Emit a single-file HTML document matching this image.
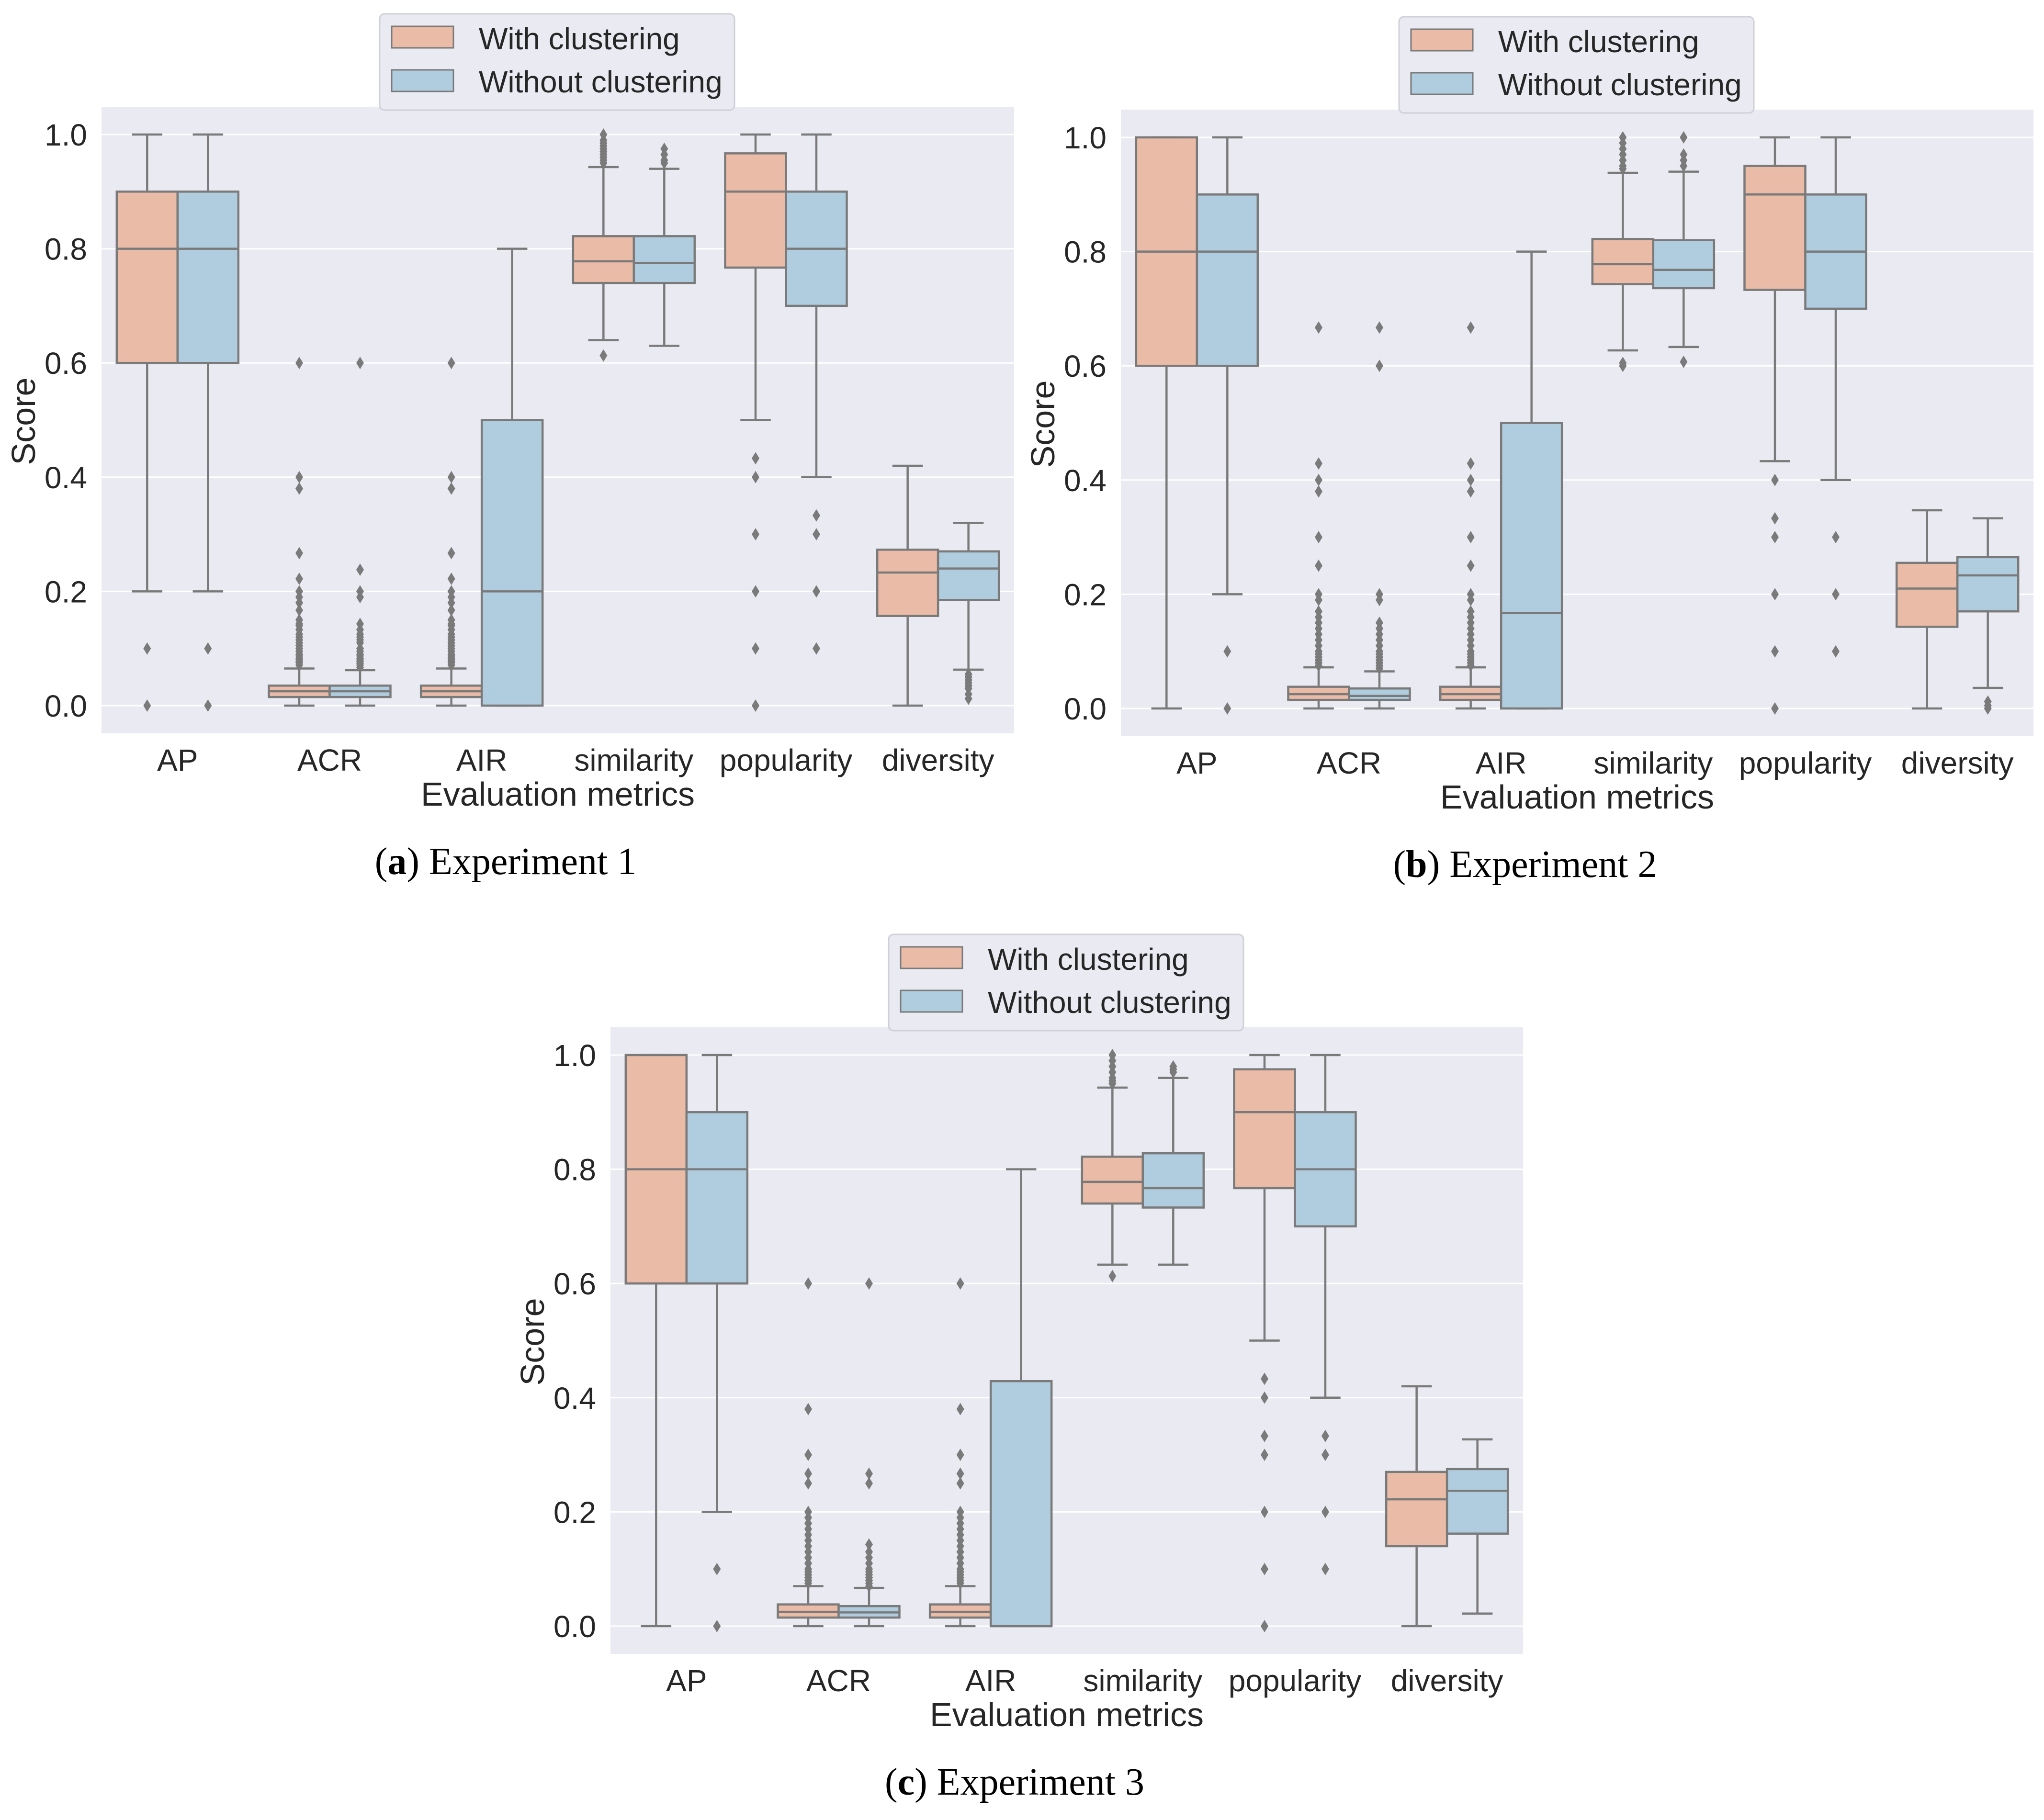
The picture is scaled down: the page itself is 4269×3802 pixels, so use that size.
<!DOCTYPE html>
<html><head><meta charset="utf-8">
<style>
html,body{margin:0;padding:0;background:#fff;}
svg{display:block;}
text{font-family:"Liberation Sans",sans-serif;fill:#262626;}
.cap{font-family:"Liberation Serif",serif;fill:#000;}
</style></head>
<body>
<svg id="fig" width="4269" height="3802" viewBox="0 0 4269 3802" xmlns="http://www.w3.org/2000/svg"></svg>
<script>
const categories = ["AP","ACR","AIR","similarity","popularity","diversity"];
const yTicks = [0,0.2,0.4,0.6,0.8,1.0];
const yTickLabels = ["0.0","0.2","0.4","0.6","0.8","1.0"];
const seriesNames = ["With clustering","Without clustering"];
const panelCaptions = ["Experiment 1","Experiment 2","Experiment 3"];
const panelLetters = ["a","b","c"];

// [whislo, q1, median, q3, whishi]
const exp1With = [[0.2,0.6,0.8,0.9,1.0],[0,0.015,0.025,0.035,0.065],[0,0.015,0.025,0.035,0.065],[0.64,0.74,0.778,0.822,0.943],[0.5,0.767,0.9,0.967,1.0],[0,0.157,0.233,0.273,0.42]];
const exp1Without = [[0.2,0.6,0.8,0.9,1.0],[0,0.015,0.025,0.035,0.062],[0,0,0.2,0.5,0.8],[0.63,0.74,0.775,0.822,0.94],[0.4,0.7,0.8,0.9,1.0],[0.063,0.185,0.24,0.27,0.32]];
const exp1WithFliers = [[0.1,0],[0.6,0.4,0.38,0.267,0.222,0.2,0.19,0.18,0.167,0.15,0.143,0.14,0.133,0.125,0.12,0.115,0.11,0.105,0.1,0.095,0.09,0.087,0.083,0.08,0.077,0.075,0.071],[0.6,0.4,0.38,0.267,0.222,0.2,0.19,0.18,0.167,0.15,0.143,0.14,0.133,0.125,0.12,0.115,0.11,0.105,0.1,0.095,0.09,0.087,0.083,0.08,0.077,0.075,0.071],[0.613,0.95,0.955,0.96,0.965,0.97,0.975,0.98,0.985,0.99,1.0],[0.433,0.4,0.3,0.2,0.1,0],[]];
const exp1WithoutFliers = [[0.1,0],[0.6,0.238,0.2,0.19,0.143,0.133,0.125,0.12,0.115,0.11,0.1,0.095,0.09,0.087,0.083,0.08,0.077,0.074,0.071,0.067],[],[0.95,0.955,0.965,0.975],[0.333,0.3,0.2,0.1],[0.055,0.05,0.045,0.04,0.035,0.03,0.02,0.012]];

const exp2With = [[0,0.6,0.8,1.0,1.0],[0,0.015,0.025,0.038,0.072],[0,0.015,0.025,0.038,0.072],[0.627,0.743,0.778,0.822,0.938],[0.433,0.733,0.9,0.95,1.0],[0,0.143,0.21,0.255,0.347]];
const exp2Without = [[0.2,0.6,0.8,0.9,1.0],[0,0.015,0.022,0.035,0.065],[0,0,0.167,0.5,0.8],[0.633,0.736,0.768,0.82,0.94],[0.4,0.7,0.8,0.9,1.0],[0.036,0.17,0.233,0.265,0.333]];
const exp2WithFliers = [[],[0.667,0.429,0.4,0.38,0.3,0.25,0.2,0.19,0.17,0.16,0.15,0.14,0.13,0.12,0.11,0.1,0.095,0.09,0.085,0.08,0.075],[0.667,0.429,0.4,0.38,0.3,0.25,0.2,0.19,0.17,0.16,0.15,0.14,0.13,0.12,0.11,0.1,0.095,0.09,0.085,0.08,0.075],[0.6,0.605,0.945,0.95,0.96,0.97,0.98,0.99,1.0],[0.4,0.333,0.3,0.2,0.1,0],[]];
const exp2WithoutFliers = [[0.1,0],[0.667,0.6,0.2,0.19,0.15,0.14,0.13,0.12,0.11,0.1,0.095,0.09,0.085,0.08,0.075,0.07],[],[0.607,0.95,0.96,0.97,1.0],[0.3,0.2,0.1],[0.012,0.005,0]];

const exp3With = [[0,0.6,0.8,1.0,1.0],[0,0.015,0.025,0.038,0.07],[0,0.015,0.025,0.038,0.07],[0.633,0.74,0.778,0.822,0.943],[0.5,0.767,0.9,0.975,1.0],[0,0.14,0.222,0.27,0.42]];
const exp3Without = [[0.2,0.6,0.8,0.9,1.0],[0,0.015,0.024,0.035,0.067],[0,0,0,0.429,0.8],[0.633,0.733,0.767,0.828,0.96],[0.4,0.7,0.8,0.9,1.0],[0.022,0.162,0.237,0.275,0.327]];
const exp3WithFliers = [[],[0.6,0.38,0.3,0.267,0.25,0.2,0.19,0.18,0.17,0.16,0.15,0.14,0.13,0.12,0.11,0.1,0.095,0.09,0.085,0.08,0.075],[0.6,0.38,0.3,0.267,0.25,0.2,0.19,0.18,0.17,0.16,0.15,0.14,0.13,0.12,0.11,0.1,0.095,0.09,0.085,0.08,0.075],[0.613,0.95,0.955,0.96,0.97,0.98,0.99,1.0],[0.433,0.4,0.333,0.3,0.2,0.1,0],[]];
const exp3WithoutFliers = [[0.1,0],[0.6,0.267,0.25,0.143,0.13,0.12,0.11,0.1,0.095,0.09,0.085,0.08,0.075,0.07],[],[0.97,0.975,0.98],[0.333,0.3,0.2,0.1],[]];

const panels = [
  {w:exp1With, wo:exp1Without, wf:exp1WithFliers, wof:exp1WithoutFliers, dx:0, dy:0},
  {w:exp2With, wo:exp2Without, wf:exp2WithFliers, wof:exp2WithoutFliers, dx:2129, dy:6},
  {w:exp3With, wo:exp3Without, wf:exp3WithFliers, wof:exp3WithoutFliers, dx:1063, dy:1923}
];

const NS="http://www.w3.org/2000/svg";
const svg=document.getElementById('fig');
function mk(tag,attrs,parent){const e=document.createElementNS(NS,tag);for(const k in attrs)e.setAttribute(k,attrs[k]);(parent||svg).appendChild(e);return e;}

const PL=212, PR=2118, PT=223, PB=1532;
const catW=(PR-PL)/categories.length;
function yS(v){return 1474 - v*1193;}
function xC(i){return PL+(i+0.5)*catW;}
const BW=127, LC="#7a7a7a", LW=4.5;
const fills=["#eabba6","#b0cddf"];

panels.forEach((p,pi)=>{
  const g=mk('g',{transform:`translate(${p.dx},${p.dy})`});
  
  
  const bg=mk('rect',{x:PL,y:PT,width:PR-PL,height:PB-PT,fill:'#eaeaf2'},g);
  
  
  yTicks.forEach((t,ti)=>{
    const gl=mk('line',{x1:PL,x2:PR,y1:yS(t),y2:yS(t),stroke:'#fff','stroke-width':3},g);
    
    
    const tl=mk('text',{x:182,y:yS(t)+23,'text-anchor':'end','font-size':64},g);
    tl.textContent=yTickLabels[ti];
    
    
  });
  categories.forEach((c,ci)=>{
    const xl=mk('text',{x:xC(ci),y:1610,'text-anchor':'middle','font-size':64},g);
    xl.textContent=c;
    
    
    [[p.w[ci],p.wf[ci],0],[p.wo[ci],p.wof[ci],1]].forEach(([s,fl,hi])=>{
      const x0=xC(ci)-BW+hi*BW, xm=x0+BW/2;
      const bg2=mk('g',{},g);
      
      
      mk('line',{x1:xm,x2:xm,y1:yS(s[0]),y2:yS(s[1]),stroke:LC,'stroke-width':LW},bg2);
      mk('line',{x1:xm,x2:xm,y1:yS(s[3]),y2:yS(s[4]),stroke:LC,'stroke-width':LW},bg2);
      mk('line',{x1:xm-BW/4,x2:xm+BW/4,y1:yS(s[0]),y2:yS(s[0]),stroke:LC,'stroke-width':LW},bg2);
      mk('line',{x1:xm-BW/4,x2:xm+BW/4,y1:yS(s[4]),y2:yS(s[4]),stroke:LC,'stroke-width':LW},bg2);
      mk('rect',{x:x0,y:yS(s[3]),width:BW,height:Math.max(0.1,yS(s[1])-yS(s[3])),fill:fills[hi],stroke:LC,'stroke-width':LW},bg2);
      mk('line',{x1:x0,x2:x0+BW,y1:yS(s[2]),y2:yS(s[2]),stroke:LC,'stroke-width':LW},bg2);
      fl.forEach(v=>{
        const y=yS(v);
        const d=mk('polygon',{points:`${xm},${y-13} ${xm+8},${y} ${xm},${y+13} ${xm-8},${y}`,fill:LC},bg2);
        
        
      });
    });
  });
  const yl=mk('text',{x:73,y:880,'text-anchor':'middle','font-size':70,transform:'rotate(-90 73 880)'},g);
  yl.textContent='Score';
  
  
  const xl=mk('text',{x:1165,y:1683,'text-anchor':'middle','font-size':70},g);
  xl.textContent='Evaluation metrics';
  
  
  const lg=mk('g',{},g);
  
  
  mk('rect',{x:793,y:29,width:741,height:201,rx:10,fill:'#eaeaf2',stroke:'#d0d0d8','stroke-width':3},lg);
  seriesNames.forEach((n,ni)=>{
    const ent=mk('g',{},lg);
    
    
    mk('rect',{x:818,y:55+ni*91,width:129,height:45,fill:fills[ni],stroke:LC,'stroke-width':3},ent);
    const t=mk('text',{x:1000,y:103+ni*90,'font-size':64},ent);
    t.textContent=n;
  });
  const cap=mk('text',{x:1056,y:1826,'text-anchor':'middle','font-size':80,'class':'cap'},g);
  
  
  const s1=mk('tspan',{},cap); s1.textContent='(';
  const s2=mk('tspan',{'font-weight':'bold'},cap); s2.textContent=panelLetters[pi];
  const s3=mk('tspan',{},cap); s3.textContent=') '+panelCaptions[pi];
});
</script>
</body></html>
